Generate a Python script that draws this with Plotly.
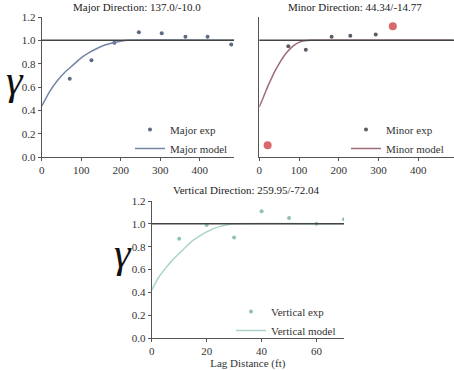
import plotly.graph_objects as go

# ---------------- data ----------------
major_exp_x = [71, 126, 184, 246, 304, 364, 420, 480]
major_exp_y = [0.67, 0.83, 0.98, 1.07, 1.06, 1.03, 1.03, 0.965]
major_mod_x = [0, 20, 40, 60, 80, 100, 120, 140, 160, 180, 200, 220, 487]
major_mod_y = [0.435, 0.56, 0.655, 0.73, 0.79, 0.85, 0.895, 0.93, 0.96, 0.98, 0.993, 1.0, 1.0]

minor_exp_x = [73, 117, 182, 229, 293]
minor_exp_y = [0.95, 0.92, 1.03, 1.04, 1.05]
minor_out_x = [21, 336]
minor_out_y = [0.10, 1.12]
minor_mod_x = [0, 10, 20, 30, 40, 50, 60, 70, 80, 90, 100, 110, 120, 130, 487]
minor_mod_y = [0.43, 0.51, 0.595, 0.67, 0.74, 0.80, 0.855, 0.90, 0.935, 0.963, 0.982, 0.994, 0.999, 1.0, 1.0]

vert_exp_x = [10, 20, 30, 40, 50, 60, 70]
vert_exp_y = [0.87, 0.99, 0.88, 1.11, 1.05, 1.00, 1.04]
vert_mod_x = [0, 2.5, 5, 7.5, 10, 12.5, 15, 17.5, 20, 22.5, 25, 27.5, 30, 70]
vert_mod_y = [0.42, 0.53, 0.61, 0.68, 0.74, 0.80, 0.855, 0.895, 0.93, 0.958, 0.978, 0.992, 1.0, 1.0]

titles = ["Major Direction: 137.0/-10.0", "Minor Direction: 44.34/-14.77",
          "Vertical Direction: 259.95/-72.04"]
xlabel = "Lag Distance (ft)"

W, H = 454, 370
FONT = "Liberation Serif"

def px(x):
    return x / W

def py(y):
    return 1 - y / H

fig = go.Figure()

# Major
fig.add_trace(go.Scatter(x=major_exp_x, y=major_exp_y, mode="markers", name="Major exp",
                         marker=dict(color="#5d6a85", size=4), xaxis="x", yaxis="y",
                         legend="legend"))
fig.add_trace(go.Scatter(x=major_mod_x, y=major_mod_y, mode="lines", name="Major model",
                         line=dict(color="#7484a4", width=1.5, shape="spline", smoothing=0.6),
                         xaxis="x", yaxis="y", legend="legend"))
# Minor
fig.add_trace(go.Scatter(x=minor_exp_x, y=minor_exp_y, mode="markers", name="Minor exp",
                         marker=dict(color="#5e5a66", size=4), xaxis="x2", yaxis="y2",
                         legend="legend2"))
fig.add_trace(go.Scatter(x=minor_out_x, y=minor_out_y, mode="markers", name="outliers",
                         marker=dict(color="#d9676b", size=8), xaxis="x2", yaxis="y2",
                         showlegend=False))
fig.add_trace(go.Scatter(x=minor_mod_x, y=minor_mod_y, mode="lines", name="Minor model",
                         line=dict(color="#9e6e78", width=1.5, shape="spline", smoothing=0.6),
                         xaxis="x2", yaxis="y2", legend="legend2"))
# Vertical
fig.add_trace(go.Scatter(x=vert_exp_x, y=vert_exp_y, mode="markers", name="Vertical exp",
                         marker=dict(color="#8fc2b2", size=4), xaxis="x3", yaxis="y3",
                         legend="legend3"))
fig.add_trace(go.Scatter(x=vert_mod_x, y=vert_mod_y, mode="lines", name="Vertical model",
                         line=dict(color="#acd3c9", width=1.5, shape="spline", smoothing=0.6),
                         xaxis="x3", yaxis="y3", legend="legend3"))

axis_common = dict(showline=True, linecolor="#555", linewidth=1, showgrid=False,
                   zeroline=False, ticks="outside", ticklen=3, tickcolor="#555",
                   automargin=False,
                   tickfont=dict(family=FONT, size=11, color="#333"))

yaxis_common = dict(axis_common, range=[0, 1.2], dtick=0.2, tickformat=".1f")

legend_font = dict(family=FONT, size=11, color="#333")

fig.update_layout(
    width=W, height=H,
    margin=dict(l=0, r=0, t=0, b=0, autoexpand=False),
    paper_bgcolor="white", plot_bgcolor="white",
    font=dict(family=FONT, size=11, color="#333"),
    xaxis=dict(axis_common, domain=[px(41.7), px(234)], range=[0, 487], dtick=100, anchor="y"),
    yaxis=dict(yaxis_common, domain=[py(157), py(17)], anchor="x"),
    xaxis2=dict(axis_common, domain=[px(259.3), 1.0], range=[0, 490], dtick=100, anchor="y2"),
    yaxis2=dict(yaxis_common, domain=[py(157), py(17)], anchor="x2", showticklabels=False,
                ticks=""),
    xaxis3=dict(axis_common, domain=[px(151.7), px(344)], range=[0, 70], dtick=20, anchor="y3",
                title=dict(text=xlabel, font=dict(family=FONT, size=11, color="#333"),
                           standoff=4)),
    yaxis3=dict(yaxis_common, domain=[py(338), py(201)], anchor="x3"),
    legend=dict(x=px(130), y=py(115), xanchor="left", yanchor="top",
                bgcolor="rgba(0,0,0,0)", font=legend_font, itemwidth=30),
    legend2=dict(x=px(346), y=py(115), xanchor="left", yanchor="top",
                 bgcolor="rgba(0,0,0,0)", font=legend_font, itemwidth=30),
    legend3=dict(x=px(231), y=py(297), xanchor="left", yanchor="top",
                 bgcolor="rgba(0,0,0,0)", font=legend_font, itemwidth=30),
    showlegend=True,
)

# Sill lines at gamma = 1
for xr, yr in [("x", "y"), ("x2", "y2"), ("x3", "y3")]:
    fig.add_shape(type="line", xref=f"{xr} domain", yref=yr, x0=0, x1=1, y0=1, y1=1,
                  line=dict(color="#444", width=1.5))

# Titles
for text, cx, cy in [(titles[0], 137, 7), (titles[1], 355, 7), (titles[2], 246, 190)]:
    fig.add_annotation(text=text, x=px(cx), y=py(cy), xref="paper", yref="paper",
                       showarrow=False, font=dict(family=FONT, size=11, color="#222"),
                       xanchor="center", yanchor="middle")

# Gamma y labels
for cx, cy in [(15, 80), (123, 253)]:
    fig.add_annotation(text="<i>γ</i>", x=px(cx), y=py(cy), xref="paper", yref="paper",
                       showarrow=False, font=dict(family=FONT, size=42, color="#111"),
                       xanchor="center", yanchor="middle")

fig.write_html("out.html",
               config={"displayModeBar": False},
               post_script="document.body.style.margin='0px';"
                           "document.body.style.overflow='hidden';")
